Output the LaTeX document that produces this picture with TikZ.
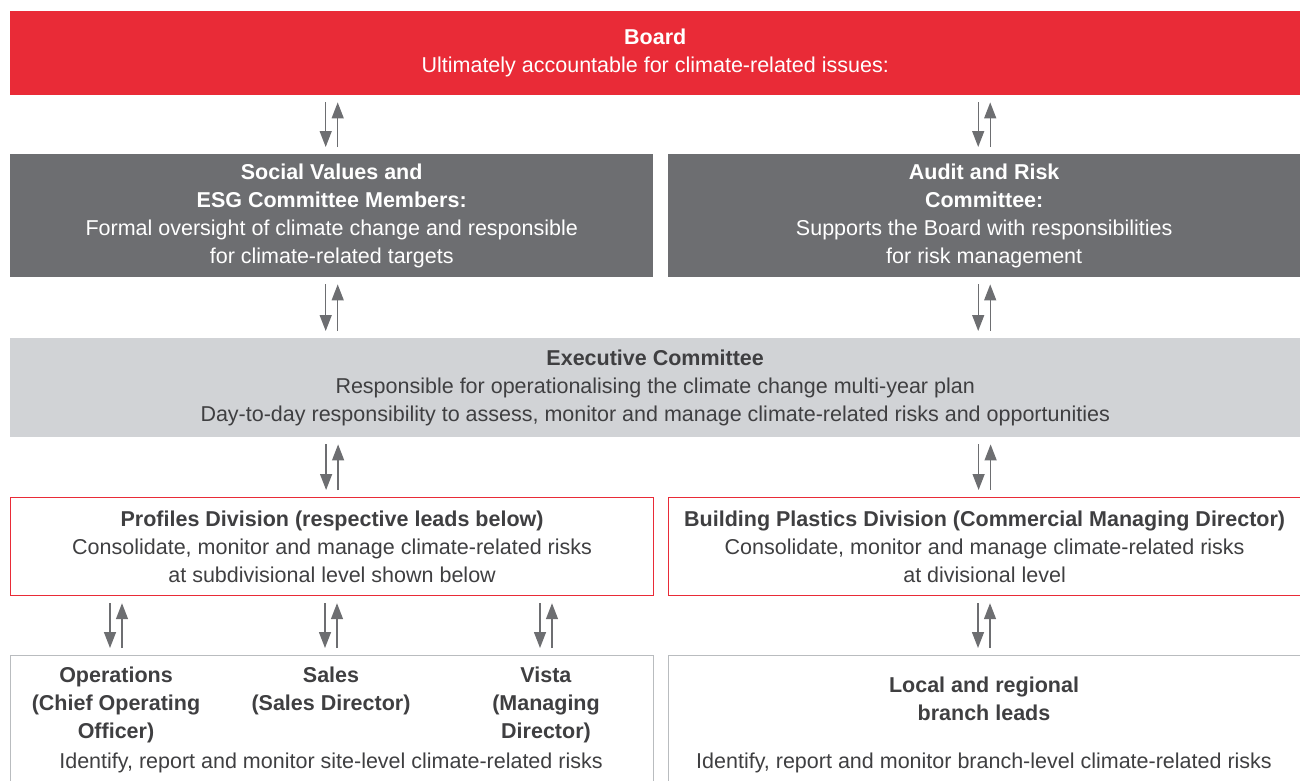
\documentclass[tikz,border=0pt]{standalone}
\usepackage{fontspec}
\setmainfont{Liberation Sans}
\usetikzlibrary{arrows.meta,calc}

\definecolor{boardred}{HTML}{E92B37}
\definecolor{darkgrey}{HTML}{6D6E71}
\definecolor{lightgrey}{HTML}{D1D3D6}
\definecolor{linegrey}{HTML}{B9BCBF}
\definecolor{textgrey}{HTML}{3F3F41}

\tikzset{
  lvl/.style={anchor=north west, inner sep=0pt, align=center,
    font=\fontsize{21.5}{28}\selectfont},
  txt/.style={align=center, inner sep=0pt, text=textgrey,
    font=\fontsize{21.5}{28}\selectfont},
  flow/.style={draw=darkgrey, line width=1.4pt,
    -{Triangle[width=12pt,length=16pt]}}
}

\begin{document}
\begin{tikzpicture}[x=1pt,y=-1pt]
  \useasboundingbox (0,0) rectangle (1300,780);

  % top level
  \node[lvl, fill=boardred, text=white, minimum width=1290, minimum height=84]
    (board) at (10,11) {\textbf{Board}\\Ultimately accountable for climate-related issues:};

  % committees
  \node[lvl, fill=darkgrey, text=white, minimum width=643, minimum height=123]
    (esg) at (10,154) {\textbf{Social Values and}\\\textbf{ESG Committee Members:}\\
      Formal oversight of climate change and responsible\\for climate-related targets};
  \node[lvl, fill=darkgrey, text=white, minimum width=632, minimum height=123]
    (audit) at (668,154) {\textbf{Audit and Risk}\\\textbf{Committee:}\\
      Supports the Board with responsibilities\\for risk management};

  \node[lvl, fill=lightgrey, text=textgrey, minimum width=1290, minimum height=99]
    (exec) at (10,338) {\textbf{Executive Committee}\\
      Responsible for operationalising the climate change multi-year plan\\
      Day-to-day responsibility to assess, monitor and manage climate-related risks and opportunities};

  % divisions
  \node[lvl, draw=boardred, line width=1.2pt, text=textgrey, minimum width=643, minimum height=98]
    (profiles) at (10,497) {\textbf{Profiles Division (respective leads below)}\\
      Consolidate, monitor and manage climate-related risks\\at subdivisional level shown below};
  \node[lvl, draw=boardred, line width=1.2pt, text=textgrey, minimum width=632, minimum height=98]
    (plastics) at (668,497) {\textbf{Building Plastics Division (Commercial Managing Director)}\\
      Consolidate, monitor and manage climate-related risks\\at divisional level};

  % leads
  \node[lvl, draw=linegrey, line width=1.2pt, minimum width=643, minimum height=140]
    (subdiv) at (10,655) {};
  \node[lvl, draw=linegrey, line width=1.2pt, minimum width=632, minimum height=140]
    (branch) at (668,655) {};

  \node[txt] (ops) at (116,705) {\textbf{Operations}\\\textbf{(Chief Operating}\\\textbf{Officer)}};
  \node[txt] (sales) at (331,691) {\textbf{Sales}\\\textbf{(Sales Director)}};
  \node[txt] (vista) at (546,705) {\textbf{Vista}\\\textbf{(Managing}\\\textbf{Director)}};
  \node[txt] (siterisk) at (331,763) {Identify, report and monitor site-level climate-related risks};
  \node[txt] (local) at (984,699) {\textbf{Local and regional}\\\textbf{branch leads}};
  \node[txt] (branchrisk) at (984,763) {Identify, report and monitor branch-level climate-related risks};

  % two-way arrows
  \foreach \a/\b/\c in {board/esg/esg, board/audit/audit, esg/exec/esg, audit/exec/audit,
      exec/profiles/profiles, exec/plastics/plastics,
      profiles/subdiv/ops, profiles/subdiv/sales, profiles/subdiv/vista,
      plastics/branch/local} {
    \draw[flow] ($(\a.south -| \c)+(-6,7)$) -- ($(\b.north -| \c)+(-6,-7)$);
    \draw[flow] ($(\b.north -| \c)+(6,-7)$) -- ($(\a.south -| \c)+(6,7)$);
  }
\end{tikzpicture}
\end{document}
